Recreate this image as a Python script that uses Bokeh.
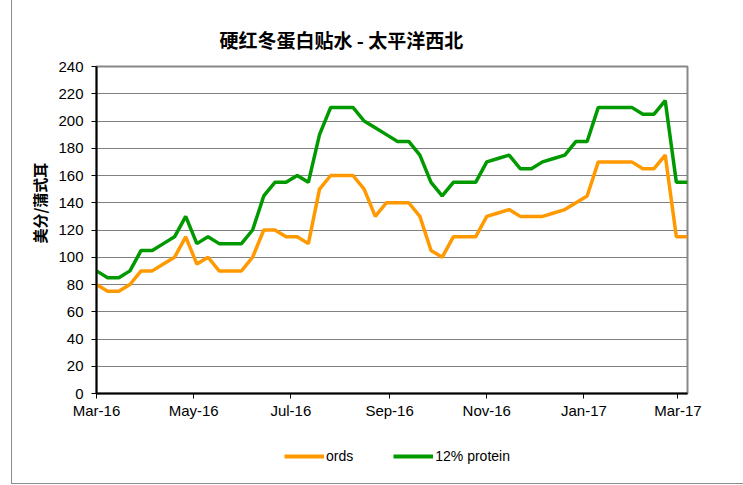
import pandas as pd
from bokeh.plotting import figure
from bokeh.layouts import column
from bokeh.models import (Legend, LegendItem, FixedTicker, DatetimeTickFormatter,
                          Range1d, Title)
from bokeh.embed import file_html
from bokeh.resources import INLINE

# ---- data (weekly) ----
dates = pd.date_range("2016-03-01", periods=54, freq="7D")
ords = [80, 75, 75, 80, 90, 90, 95, 100, 115, 95,
        100, 90, 90, 90, 100, 120, 120, 115, 115, 110,
        150, 160, 160, 160, 150, 130, 140, 140, 140, 130,
        105, 100, 115, 115, 115, 130, 132.5, 135, 130, 130,
        130, 132.5, 135, 140, 145, 170, 170, 170, 170, 165,
        165, 175, 115, 115]
protein12 = [90, 85, 85, 90, 105, 105, 110, 115, 130, 110,
             115, 110, 110, 110, 120, 145, 155, 155, 160, 155,
             190, 210, 210, 210, 200, 195, 190, 185, 185, 175,
             155, 145, 155, 155, 155, 170, 172.5, 175, 165, 165,
             170, 172.5, 175, 185, 185, 210, 210, 210, 210, 205,
             205, 215, 155, 155]
y_ticks = list(range(0, 241, 20))
x_tick_dates = ["2016-03-01", "2016-05-01", "2016-07-01", "2016-09-01",
                "2016-11-01", "2017-01-01", "2017-03-01"]
series_names = ["ords", "12% protein"]
series_colors = ["#FF9900", "#009900"]
title_text = "硬红冬蛋白贴水 - 太平洋西北"
y_label_text = "美分/蒲式耳"

FONT = "Liberation Sans"
CJK = "Noto Sans CJK SC"

# ---------------- main chart ----------------
p = figure(width=732, height=425, x_axis_type="datetime",
           output_backend="svg", toolbar_location=None,
           x_range=Range1d(dates[0], dates[-1]), y_range=Range1d(0, 240),
           min_border_left=84, min_border_right=57,
           min_border_top=66, min_border_bottom=32)

p.title.text = title_text
p.title.text_font = CJK
p.title.text_font_size = "19px"
p.title.text_font_style = "bold"
p.title.text_color = "black"
p.title.align = "left"
p.title.offset = 123
p.title.standoff = 28

p.background_fill_color = "white"
p.border_fill_color = "white"
p.outline_line_color = "#888888"
p.outline_line_width = 2

p.xgrid.visible = False
p.ygrid.grid_line_color = "#808080"
p.ygrid.grid_line_width = 1

p.yaxis.ticker = FixedTicker(ticks=y_ticks)
p.xaxis.ticker = FixedTicker(ticks=[pd.Timestamp(d).timestamp() * 1000 for d in x_tick_dates])
fmt = "%b-%y"
p.xaxis.formatter = DatetimeTickFormatter(milliseconds=fmt, seconds=fmt, minsec=fmt, minutes=fmt,
                                          hourmin=fmt, hours=fmt, days=fmt, months=fmt, years=fmt)
for ax in (p.xaxis[0], p.yaxis[0]):
    ax.axis_line_color = "black"
    ax.axis_line_width = 2
    ax.major_tick_line_color = "black"
    ax.major_tick_out = 5
    ax.major_tick_in = 0
    ax.minor_tick_line_color = None
    ax.major_label_text_font = FONT
    ax.major_label_text_font_size = "15px"
    ax.major_label_text_color = "black"
p.yaxis.major_label_standoff = 8
p.xaxis.major_label_standoff = 3

r1 = p.line(dates, ords, line_color=series_colors[0], line_width=3.5)
r2 = p.line(dates, protein12, line_color=series_colors[1], line_width=3.5)

ytitle = Title(text=y_label_text, align="left", offset=150, standoff=12,
               text_font=CJK, text_font_size="15px", text_font_style="bold",
               text_color="black")
p.add_layout(ytitle, "left")

# ---------------- legend strip ----------------
lg = figure(width=732, height=58, output_backend="svg", toolbar_location=None,
            x_axis_location=None, y_axis_location=None,
            x_range=Range1d(0, 1), y_range=Range1d(0, 1),
            min_border=0, min_border_left=0, min_border_right=0,
            min_border_top=0, min_border_bottom=0)
lg.outline_line_color = None
lg.border_fill_color = "white"
lg.xgrid.visible = False
lg.ygrid.visible = False
# legend keys only: kept outside the visible range of this strip
k1 = lg.line(x=[5, 6], y=[5, 5], line_color=series_colors[0], line_width=4)
k2 = lg.line(x=[5, 6], y=[5, 5], line_color=series_colors[1], line_width=4)
legend = Legend(items=[LegendItem(label=series_names[0], renderers=[k1]),
                       LegendItem(label=series_names[1], renderers=[k2])],
                orientation="horizontal", location=(188, 17),
                glyph_width=40, glyph_height=20, label_standoff=2, spacing=40,
                label_text_font=FONT, label_text_font_size="14px",
                label_text_color="black",
                border_line_color=None, background_fill_alpha=0,
                margin=0, padding=6)
lg.add_layout(legend)

layout = column(p, lg, spacing=0, margin=(0, 0, 0, 11),
                styles={"border-left": "1px solid #8c8c8c",
                        "border-bottom": "1px solid #8c8c8c"})
open("out.html", "w").write(file_html(layout, INLINE))
